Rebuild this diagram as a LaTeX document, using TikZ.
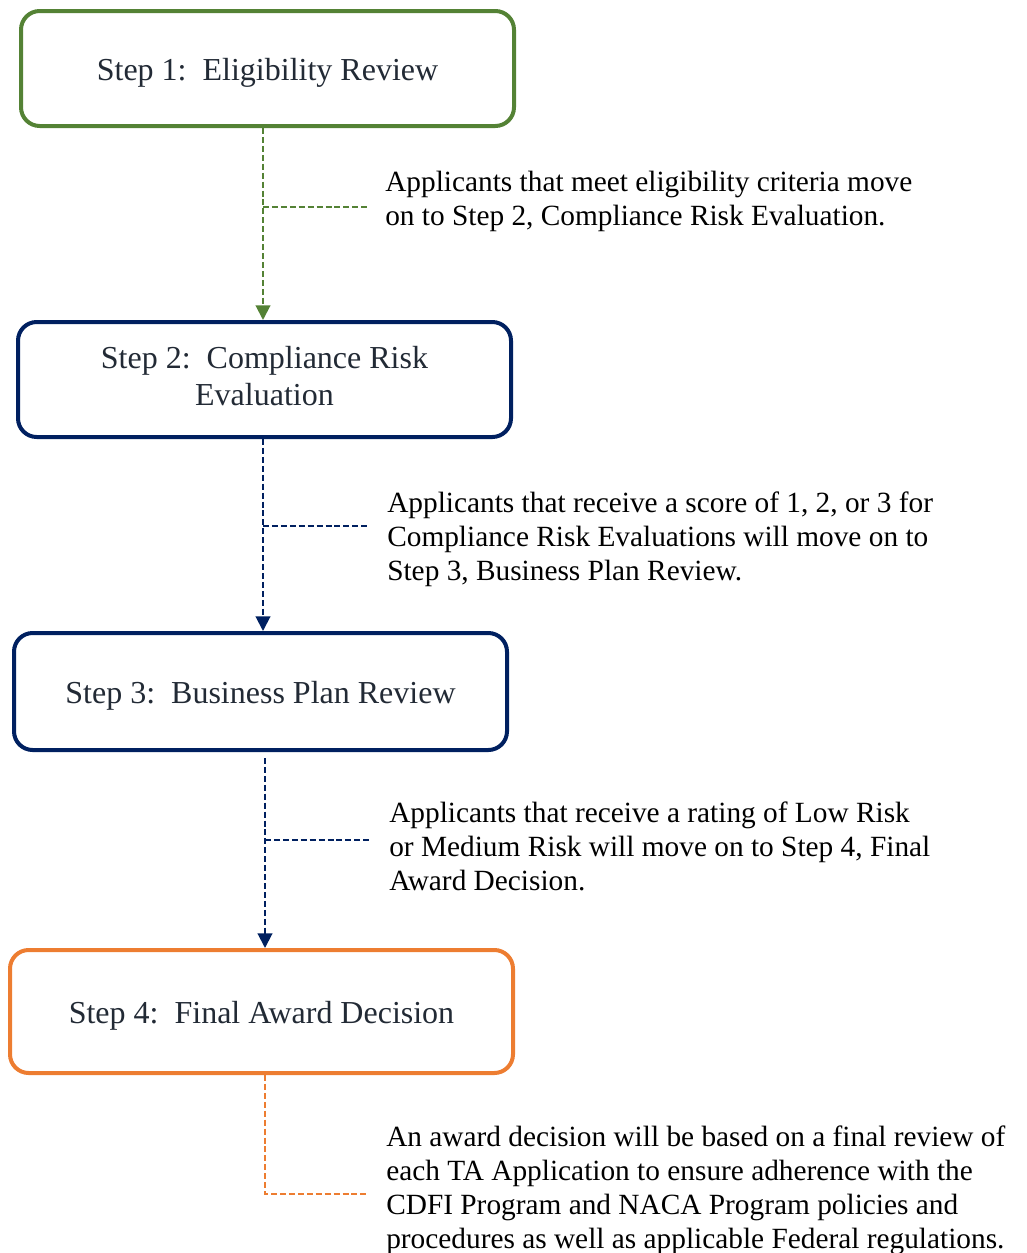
\documentclass[tikz,border=0pt]{standalone}
\usepackage{fontspec}
\setmainfont{Liberation Serif}
\usetikzlibrary{arrows.meta,calc}
\definecolor{cgreen}{HTML}{548235}
\definecolor{cnavy}{HTML}{002060}
\definecolor{corange}{HTML}{ED7D31}
\definecolor{ctext}{HTML}{222A35}
\begin{document}
\begin{tikzpicture}[x=0.75pt,y=-0.75pt,
  stepbox/.style={draw, line width=3pt, rounded corners=14pt, text=ctext,
    font=\fontsize{24}{27.75}\selectfont, inner sep=0pt},
  lowtext/.style={text height=23pt, text depth=5.3pt},
  note/.style={anchor=north west, align=left, inner sep=0pt, text=black,
    font=\fontsize{22}{25.5}\selectfont},
  flow/.style={line width=1.5pt, dash pattern=on 4.5pt off 2.2pt},
  tip/.style={-{Triangle[length=11pt,width=11pt]}}
]
\useasboundingbox (0,0) rectangle (1026,1253);
\node[stepbox, lowtext, draw=cgreen, minimum width=493*0.75pt, minimum height=115*0.75pt] (s1) at (267.5,68.5) {Step 1:~~Eligibility Review};
\node[stepbox, draw=cnavy, minimum width=493*0.75pt, minimum height=115*0.75pt] (s2) at (264.5,379.5) {\begin{tabular}{@{}c@{}}Step 2:~~Compliance Risk\\Evaluation\end{tabular}};
\node[stepbox, lowtext, draw=cnavy, minimum width=493*0.75pt, minimum height=117*0.75pt] (s3) at (260.5,691.5) {Step 3:~~Business Plan Review};
\node[stepbox, lowtext, text height=24pt, draw=corange, minimum width=503*0.75pt, minimum height=123*0.75pt] (s4) at (261.5,1011.5) {Step 4:~~Final Award Decision};

\node[note] (n1) at (385,171) {Applicants that meet eligibility criteria move\\on to Step 2, Compliance Risk Evaluation.};
\node[note] (n2) at (387,492) {Applicants that receive a score of 1, 2, or 3 for\\Compliance Risk Evaluations will move on to\\Step 3, Business Plan Review.};
\node[note] (n3) at (389,802) {Applicants that receive a rating of Low Risk\\or Medium Risk will move on to Step 4, Final\\Award Decision.};
\node[note] (n4) at (386,1126) {An award decision will be based on a final review of\\each TA Application to ensure adherence with the\\CDFI Program and NACA Program policies and\\procedures as well as applicable Federal regulations.};

\coordinate (x1) at (263,0);
\coordinate (x3) at (265,0);
\coordinate (b1) at (367,207);
\coordinate (b2) at (370,526);
\coordinate (b3) at (370,840);
\coordinate (b4) at (367,1194);

\draw[flow, cgreen, tip] (s1.south -| x1) -- (s2.north -| x1);
\draw[flow, cgreen] (b1 -| x1) -- (b1);
\draw[flow, cnavy, tip] (s2.south -| x1) -- (s3.north -| x1);
\draw[flow, cnavy] (b2 -| x1) -- (b2);
\draw[flow, cnavy, tip] ($(s3.south -| x3)+(0,6)$) -- (s4.north -| x3);
\draw[flow, cnavy] (b3 -| x3) -- (b3);
\draw[flow, corange] (s4.south -| x3) -- (b4 -| x3) -- (b4);
\end{tikzpicture}
\end{document}
